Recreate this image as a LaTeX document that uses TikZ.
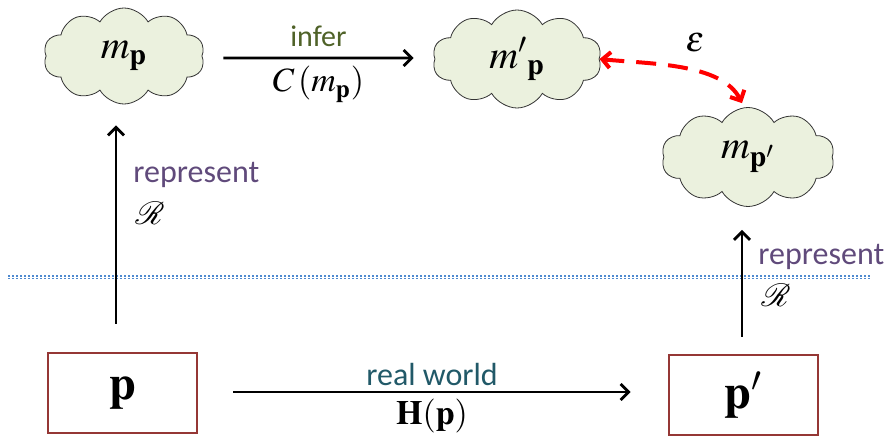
\documentclass[tikz,border=0pt]{standalone}
\usepackage{mathptmx}
\usepackage[no-math]{fontspec}
\setmainfont{Carlito}
\usetikzlibrary{shapes.symbols,arrows.meta}
\definecolor{cloudfill}{HTML}{EBF1DE}
\definecolor{boxred}{HTML}{953735}
\definecolor{infergreen}{HTML}{4F6228}
\definecolor{reppurple}{HTML}{604A7B}
\definecolor{worldteal}{HTML}{215968}
\definecolor{sepblue}{HTML}{4F8AD0}
\begin{document}
\begin{tikzpicture}[x=0.5pt,y=-0.5pt,
  blob/.style={cloud, cloud puffs=10, cloud puff arc=120, cloud ignores aspect, draw=black!80, fill=cloudfill, inner sep=0pt, font=\fontsize{20}{24}\selectfont},
  world/.style={draw=boxred, line width=1.4pt, minimum width=74.5pt, minimum height=40pt, inner sep=0pt, font=\fontsize{24}{28}\selectfont},
  arr/.style={-{Straight Barb[length=4pt,width=8pt]}, line width=1.4pt},
  err/.style={{Straight Barb[length=4pt,width=8pt]}-{Straight Barb[length=4pt,width=8pt]}, red, line width=2pt, dash pattern=on 10pt off 6pt},
  sep/.style={sepblue, line width=0.8pt, dash pattern=on 1pt off 1pt},
  lbl/.style={inner sep=0pt, font=\fontsize{16}{19}\selectfont}]
  \useasboundingbox (0,0) rectangle (893,445);
  \draw[sep] (8,275.7) -- (870,275.7);
  \draw[sep] (8,278.5) -- (870,278.5);
  \node[blob, minimum width=80.5pt, minimum height=48pt] (mp) at (124,56) {$m_{\mathbf{p}}$};
  \node[blob, minimum width=84.5pt, minimum height=49pt] (mq) at (517,59) {${m'}_{\mathbf{p}}$};
  \node[blob, minimum width=86.5pt, minimum height=49.5pt] (mr) at (748,157) {$m_{\mathbf{p}'}$};
  \node[world] (p) at (122.5,393) {$\mathbf{p}$};
  \node[world] (pp) at (743.5,395) {$\mathbf{p}'$};
  \draw[arr] ([shift={(21,2)}]mp.east) -- node[lbl, above=5pt, text=infergreen, font=\fontsize{15}{18}\selectfont] {infer} node[lbl, below=3.5pt, font=\fontsize{17}{20}\selectfont] {$C\,(m_{\mathbf{p}})$} ([shift={(-21,-1)}]mq.west);
  \draw[arr] ([shift={(35,-1)}]p.east) -- node[lbl, above=2.5pt, text=worldteal] {real world} node[lbl, below=3pt, font=\fontsize{17}{20}\selectfont] {$\mathbf{H}(\mathbf{p})$} ([shift={(-37,-3)}]pp.west);
  \draw[arr] ([shift={(-6.5,-28)}]p.north) -- ([shift={(-8,21)}]mp.south);
  \draw[arr] ([shift={(-1.5,-17)}]pp.north) -- ([shift={(-6,23)}]mr.south);
  \node[lbl, anchor=west, text=reppurple] (r1) at (133,175) {represent};
  \node[lbl, anchor=west] (c1) at (135,213) {$\mathcal{R}$};
  \node[lbl, anchor=west, text=reppurple] (r2) at (758,257) {represent};
  \node[lbl, anchor=west] (c2) at (761,295) {$\mathcal{R}$};
  \draw[err] (mq.east) .. controls +(50,5) and +(-20,-40) .. ([shift={(-6,-4)}]mr.north);
  \node[lbl, font=\fontsize{18}{21}\selectfont] (eps) at (695,43) {$\varepsilon$};
\end{tikzpicture}
\end{document}
